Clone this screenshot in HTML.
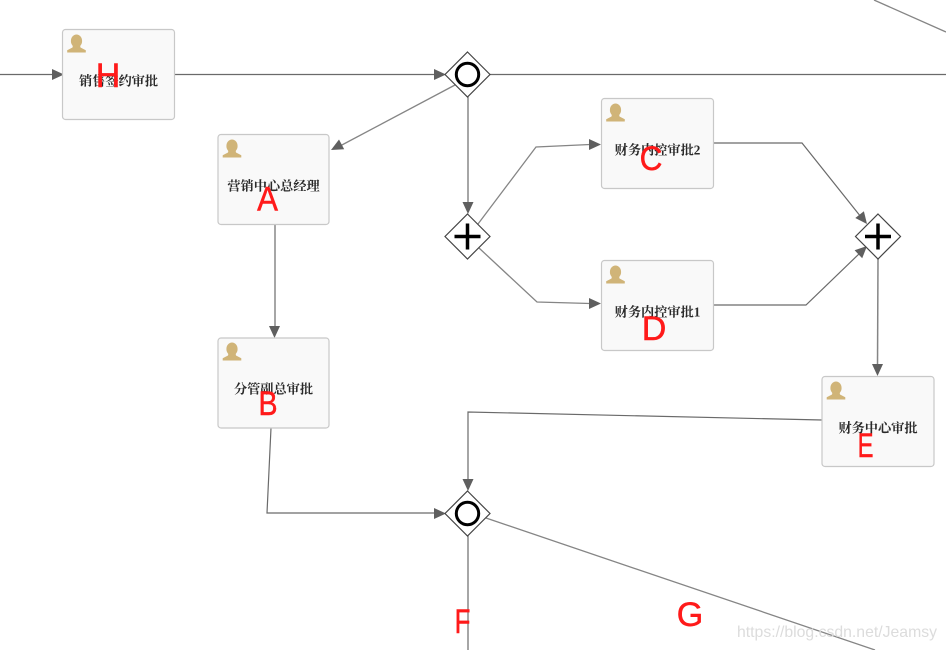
<!DOCTYPE html>
<html><head><meta charset="utf-8"><style>
html,body{margin:0;padding:0;background:#fff;width:946px;height:650px;overflow:hidden}
svg{display:block}
.t{font-family:"Liberation Serif","Noto Serif CJK SC",serif;font-size:13.200px;font-weight:700;fill:#2a2a2a;text-anchor:middle}
.r{font-family:"Liberation Sans","Noto Sans CJK SC",sans-serif;font-size:34px;fill:#ff1a1a;stroke:#ff1a1a;stroke-width:.5;text-anchor:middle}
.box{fill:#f9f9f9;stroke:#c8c8c8;stroke-width:1.2}
.l{fill:none;stroke:#6a6a6a;stroke-width:1.2}
.g{fill:none;stroke:#858585;stroke-width:1.3}
.a{fill:#5f5f5f}
.d{fill:#fff;stroke:#444;stroke-width:1.2}
.u{fill:#d0b478}
</style></head><body>
<svg width="946" height="650" viewBox="0 0 946 650" xmlns="http://www.w3.org/2000/svg">
<defs><g id="user"><ellipse cx="0" cy="-3" rx="5.600" ry="6.500" class="u"/><path class="u" d="M-3.500,1 L3.500,1 L4,3.500 L9.300,6.300 V8.500 H-9.300 V6.300 L-4,3.500 Z"/></g></defs>

<!-- connectors -->
<path class="l" d="M0,74.500H52"/>
<path class="l" d="M175,74.500H434"/>
<path class="l" d="M490,74.500H946"/>
<path class="g" d="M874,0L946,32"/>
<path class="g" d="M455,85L340,146"/>
<path class="l" d="M468,97V204"/>
<path class="g" d="M478,224L536,147L590,144.500"/>
<path class="g" d="M479,248L537,302L590,303.500"/>
<path class="l" d="M714,143H802L861,217"/>
<path class="l" d="M714,305H806L861,252"/>
<path class="g" d="M878,259L877.500,366" style="stroke-width:1.500"/>
<path class="l" d="M275,224V328"/>
<path class="l" d="M271,428L267,513H434"/>
<path class="l" d="M822,420L468,412V481"/>
<path class="l" d="M468,536V650"/>
<path class="g" d="M486,518L875,650"/>

<!-- arrowheads -->
<path class="a" d="M52,69L64,74.500L52,80Z"/>
<path class="a" d="M434,69L446,74.500L434,80Z"/>
<path class="a" d="M331,150L339,139.500L344.200,149.300Z"/>
<path class="a" d="M462.500,202H473.500L468,214Z"/>
<path class="a" d="M589,139L601,144.500L589,150Z"/>
<path class="a" d="M589,298L601,303.500L589,309Z"/>
<path class="a" d="M867,224L855.300,218L863.900,211.200Z"/>
<path class="a" d="M867,246L862.200,258.300L854.600,250.300Z"/>
<path class="a" d="M872,364H883L877.500,376Z"/>
<path class="a" d="M269,326H280L274.500,338Z"/>
<path class="a" d="M434,508L446,513.500L434,519Z"/>
<path class="a" d="M462.500,479H473.500L468,491Z"/>

<!-- tasks -->
<rect class="box" x="62.500" y="29.500" width="112" height="90" rx="3"/>
<rect class="box" x="218" y="134.500" width="111" height="90" rx="3"/>
<rect class="box" x="218" y="338" width="111" height="90" rx="3"/>
<rect class="box" x="601.500" y="98.500" width="112" height="90" rx="3"/>
<rect class="box" x="601.500" y="260.500" width="112" height="90" rx="3"/>
<rect class="box" x="822" y="376.500" width="112" height="90" rx="3"/>

<use href="#user" x="76.500" y="44"/>
<use href="#user" x="232" y="149"/>
<use href="#user" x="232" y="352"/>
<use href="#user" x="615.500" y="113"/>
<use href="#user" x="615.500" y="275"/>
<use href="#user" x="836" y="391"/>

<text class="t" x="118.500" y="85.500">销售签约审批</text>
<text class="t" x="273.500" y="190.500">营销中心总经理</text>
<text class="t" x="273.500" y="393.500">分管副总审批</text>
<text class="t" x="657.500" y="154.500">财务内控审批2</text>
<text class="t" x="657.500" y="316.500">财务内控审批1</text>
<text class="t" x="878" y="432.500">财务中心审批</text>

<!-- gateways -->
<path class="d" d="M467.500,52L490,74.500L467.500,97L445,74.500Z"/>
<circle cx="467.500" cy="74.500" r="11.200" fill="none" stroke="#000" stroke-width="3"/>
<path class="d" d="M467.500,214L490,236.500L467.500,259L445,236.500Z"/>
<path d="M454.500,236.500H480.500M467.500,223.500V249.500" stroke="#000" stroke-width="3.500" fill="none"/>
<path class="d" d="M878,214L900.500,236.500L878,259L855.500,236.500Z"/>
<path d="M865,236.500H891M878,223.500V249.500" stroke="#000" stroke-width="3.500" fill="none"/>
<path class="d" d="M467.500,491L490,513.500L467.500,536L445,513.500Z"/>
<circle cx="467.500" cy="513.500" r="11.200" fill="none" stroke="#000" stroke-width="3"/>

<!-- red letters -->
<text class="r" transform="translate(108,87)">H</text>
<text class="r" transform="translate(267.500,210.500) scale(.92,1)">A</text>
<text class="r" transform="translate(268,415) scale(.84,1)">B</text>
<text class="r" transform="translate(651,170) scale(.93,1)">C</text>
<text class="r" transform="translate(654,340)">D</text>
<text class="r" transform="translate(865.500,457) scale(.7,1)">E</text>
<text class="r" transform="translate(462.500,633) scale(.76,1)">F</text>
<text class="r" transform="translate(690,626)">G</text>

<text x="737" y="637" font-family="Liberation Sans,sans-serif" font-size="16" fill="#dcdcdc" textLength="200" lengthAdjust="spacingAndGlyphs">https://blog.csdn.net/Jeamsy</text>
</svg>
</body></html>
